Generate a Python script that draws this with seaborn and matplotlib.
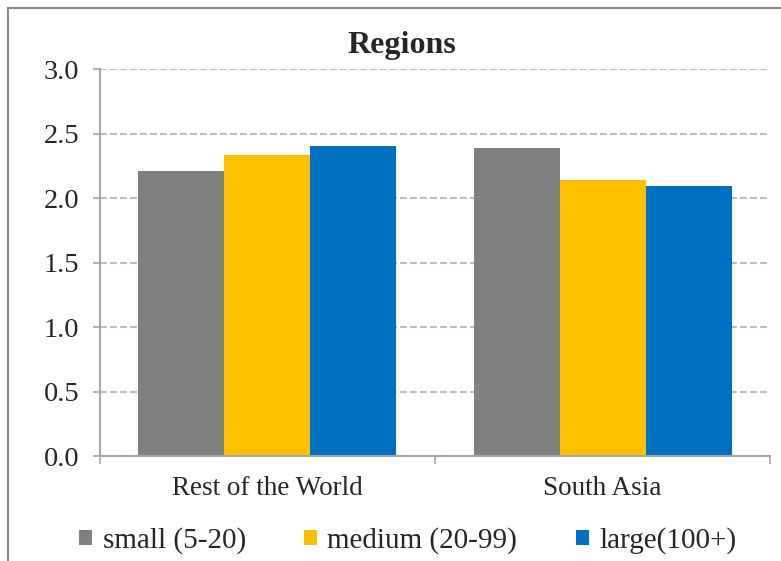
import matplotlib.pyplot as plt
import matplotlib.patches as mpatches
import seaborn as sns
import pandas as pd

regions = ['Rest of the World', 'South Asia']
sizes = ['small (5-20)', 'medium (20-99)', 'large(100+)']
small_vals = [2.21, 2.39]
medium_vals = [2.33, 2.14]
large_vals = [2.40, 2.09]
colors = ['#808080', '#FFC000', '#0070C0']

rows = []
for s, vals in zip(sizes, [small_vals, medium_vals, large_vals]):
    for r, v in zip(regions, vals):
        rows.append({'region': r, 'size': s, 'value': v})
df = pd.DataFrame(rows)

sns.set_style('white')
plt.rcParams['font.family'] = ['Liberation Serif', 'DejaVu Serif']

fig = plt.figure(figsize=(7.81, 5.61), dpi=100)
ax = fig.add_axes([0.128, 0.187, 0.858, 0.690])
sns.barplot(data=df, x='region', y='value', hue='size', palette=colors,
            width=0.77, saturation=1, linewidth=0, ax=ax, legend=True)

ax.set_ylim(0, 3.0)
ax.set_xlim(-0.5, 1.5)
ax.set_yticks([0, 0.5, 1.0, 1.5, 2.0, 2.5, 3.0])
ax.set_yticklabels([f'{t:.1f}' for t in ax.get_yticks()], fontsize=20.5)
ax.yaxis.grid(True, linestyle=(0, (3.3, 1.5)), color='#BFBFBF', linewidth=1.5)
ax.set_axisbelow(True)
ax.set_xlabel('')
ax.set_ylabel('')
ax.tick_params(axis='x', labelsize=19.5, length=0, pad=14)
ax.tick_params(axis='y', left=True, length=5, color='#A6A6A6', width=1.2, pad=10)
# category boundary ticks like Excel
ax.set_xticks([-0.5, 0.5, 1.5], minor=True)
ax.tick_params(axis='x', which='minor', bottom=True, length=6, color='#A6A6A6', width=1.2)
for side in ['top', 'right']:
    ax.spines[side].set_visible(False)
for side in ['left', 'bottom']:
    ax.spines[side].set_color('#A6A6A6')
    ax.spines[side].set_linewidth(1.5)

fig.text(402 / 781, 1 - 53 / 561, 'Regions', fontsize=23, fontweight='bold',
         ha='center', va='baseline')

handles, labels = ax.get_legend_handles_labels()
ax.legend(handles, labels, loc='center', bbox_to_anchor=(0.522, 0.036),
          bbox_transform=fig.transFigure, ncol=3, frameon=False, fontsize=21,
          handlelength=0.45, handleheight=0.45, handletextpad=0.35, columnspacing=2.0)

# outer chart frame
frame = mpatches.Rectangle((8 / 781, -0.1), 1.2, 1.1 - 8 / 561, transform=fig.transFigure,
                           fill=False, edgecolor='#888888', linewidth=1.5, clip_on=False)
fig.patches.append(frame)

fig.savefig('out.png', dpi=100)
